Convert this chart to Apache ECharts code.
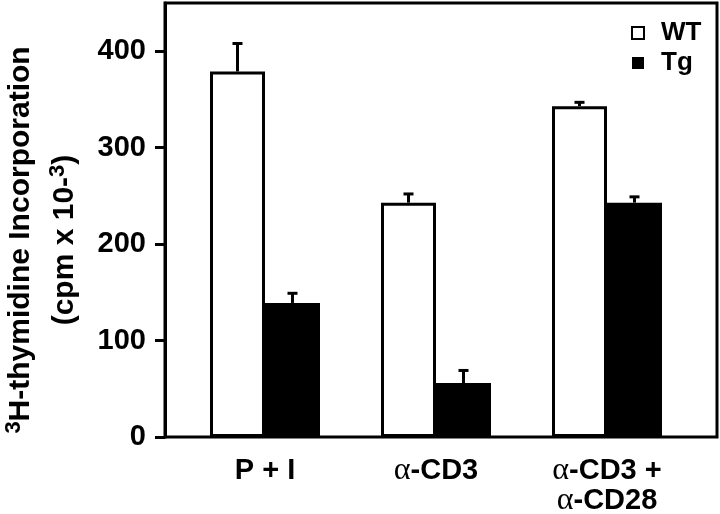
<!DOCTYPE html>
<html>
<head>
<meta charset="utf-8">
<script src="https://cdn.jsdelivr.net/npm/echarts@6/dist/echarts.min.js"></script>
<style>
  html, body { margin: 0; padding: 0; background: #fff; }
  #chart { width: 720px; height: 514px; }
</style>
</head>
<body>
<div id="chart"></div>
<script>
const categories = ["P + I", "α-CD3", "α-CD3 +\nα-CD28"];
const wtValues = [379, 243, 343];
const tgValues = [139, 56, 243];
const wtErrors = [29, 9, 4];
const tgErrors = [10, 13, 6];
const yTicks = [0, 100, 200, 300, 400];

const font = "Liberation Sans, Arial, Helvetica, sans-serif";
const serif = "Liberation Serif, DejaVu Serif, serif";
const barWidth = 55;

// error bars: [category, value, error, side]
const errData = [];
categories.forEach((c, i) => {
  errData.push([i, wtValues[i], wtErrors[i], -1]);
  errData.push([i, tgValues[i], tgErrors[i], 1]);
});

const chart = echarts.init(document.getElementById("chart"));

const option = {
  animation: false,
  grid: [
    {
      left: 165, top: 3, width: 552, height: 434,
      show: true, borderColor: "#000", borderWidth: 3,
      containLabel: false, outerBoundsMode: "none",
    },
    { left: 179.5, top: 3, width: 513, height: 434, containLabel: false, outerBoundsMode: "none" },
  ],
  legend: {
    orient: "vertical",
    left: 626,
    top: 15,
    itemWidth: 12,
    itemHeight: 12,
    itemGap: 4,
    icon: "rect",
    data: [
      { name: "WT", itemStyle: { color: "#fff", borderColor: "#000", borderWidth: 2 } },
      { name: "Tg", itemStyle: { color: "#000", borderColor: "#000", borderWidth: 0 } },
    ],
    textStyle: {
      fontFamily: font,
      fontWeight: "bold",
      fontSize: 26,
      color: "#000",
      padding: [0, 0, 0, 12],
    },
  },
  xAxis: [
    { gridIndex: 0, type: "value", min: 0, max: 1, show: false },
    {
      gridIndex: 1,
      type: "category",
      data: categories,
      axisLine: { show: false },
      axisTick: { show: false },
      axisLabel: {
        interval: 0,
        margin: 19,
        color: "#000",
        fontFamily: font,
        fontWeight: "bold",
        fontSize: 29,
        lineHeight: 30,
        formatter: (v) => v.replace(/α/g, "{a|α}"),
        rich: {
          a: { fontFamily: serif, fontWeight: "normal", fontSize: 32, lineHeight: 30, color: "#000" },
        },
      },
    },
  ],
  yAxis: [
    {
      gridIndex: 0,
      type: "value",
      min: 0,
      max: 450,
      interval: 100,
      axisLine: { show: true, lineStyle: { color: "#000", width: 3 } },
      axisTick: { show: true, length: 10, customValues: yTicks, lineStyle: { color: "#000", width: 3 } },
      axisLabel: {
        customValues: yTicks,
        margin: 19,
        color: "#000",
        fontFamily: font,
        fontWeight: "bold",
        fontSize: 29,
      },
      splitLine: { show: false },
      name: "{sup|3}H-thymidine Incorporation\n(cpm x 10-{sup|3})",
      nameLocation: "middle",
      nameGap: 72,
      nameRotate: 90,
      nameTextStyle: {
        color: "#000",
        fontFamily: font,
        fontWeight: "bold",
        fontSize: 30,
        lineHeight: 44,
        padding: [0, 40, 0, 0],
        rich: {
          sup: { fontFamily: font, fontWeight: "bold", fontSize: 22, padding: [0, 0, 14, 0], color: "#000" },
        },
      },
    },
    { gridIndex: 1, type: "value", min: 0, max: 450, show: false },
  ],
  series: [
    {
      name: "WT",
      type: "bar",
      xAxisIndex: 1,
      yAxisIndex: 1,
      data: wtValues,
      barWidth: barWidth,
      barGap: "0%",
      itemStyle: { color: "#fff", borderColor: "#000", borderWidth: 3 },
    },
    {
      name: "Tg",
      type: "bar",
      xAxisIndex: 1,
      yAxisIndex: 1,
      data: tgValues,
      barWidth: barWidth,
      barGap: "0%",
      itemStyle: { color: "#000", borderColor: "#000", borderWidth: 3 },
    },
    {
      type: "custom",
      xAxisIndex: 1,
      yAxisIndex: 1,
      z: 5,
      data: errData,
      renderItem: (params, api) => {
        const base = api.coord([api.value(0), api.value(1)]);
        const top = api.coord([api.value(0), api.value(1) + api.value(2)]);
        const x = base[0] + (api.value(3) * barWidth) / 2;
        const style = { stroke: "#000", lineWidth: 3 };
        return {
          type: "group",
          children: [
            { type: "line", shape: { x1: x, y1: base[1], x2: x, y2: top[1] }, style },
            { type: "line", shape: { x1: x - 5, y1: top[1], x2: x + 5, y2: top[1] }, style },
          ],
        };
      },
    },
  ],
};

chart.setOption(option);
</script>
</body>
</html>
